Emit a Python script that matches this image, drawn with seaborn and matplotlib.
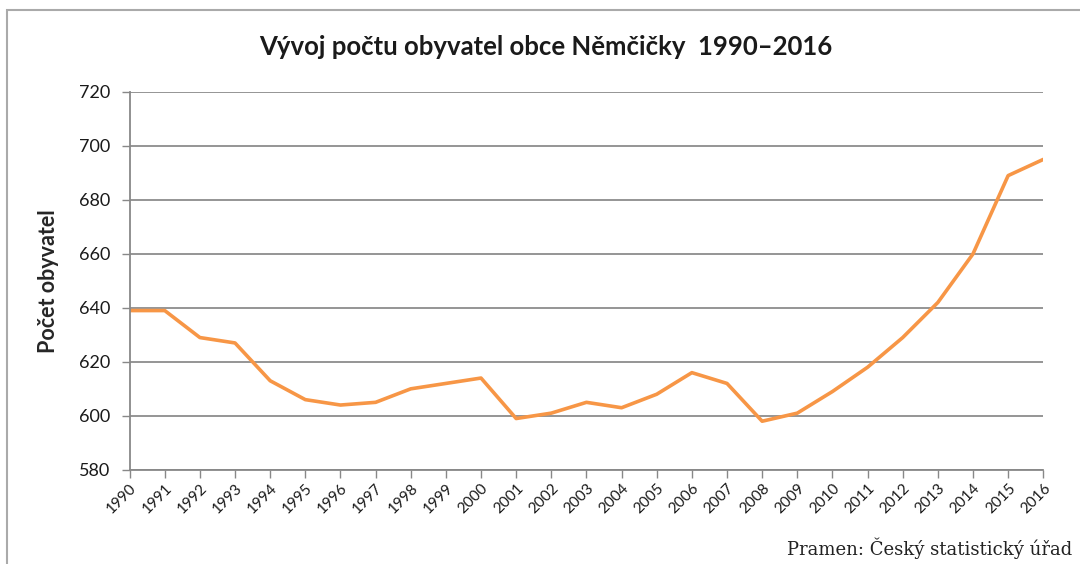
import matplotlib
matplotlib.use("Agg")
import matplotlib.pyplot as plt
import seaborn as sns
import pandas as pd
from matplotlib.patches import Rectangle

years = list(range(1990, 2017))
population = [639, 639, 629, 627, 613, 606, 604, 605, 610, 612, 614,
              599, 601, 605, 603, 608, 616, 612, 598, 601, 609, 618,
              629, 642, 660, 689, 695]
y_ticks = [580, 600, 620, 640, 660, 680, 700, 720]

df = pd.DataFrame({"rok": years, "obyvatel": population})

sns.set_style("white")
plt.rcParams["font.family"] = ["Lato", "DejaVu Sans"]

fig = plt.figure(figsize=(10.8, 5.64), dpi=100)
ax = fig.add_axes([0.120, 0.167, 0.846, 0.670])

sns.lineplot(data=df, x="rok", y="obyvatel", ax=ax, color="#f79646", linewidth=2.6)

ax.set_xlim(1990, 2016)
ax.set_ylim(580, 720)
ax.set_yticks(y_ticks)
ax.set_xticks(years)
ax.set_xticklabels([str(y) for y in years], rotation=45, ha="right",
                   rotation_mode="anchor", fontsize=11)
ax.tick_params(axis="y", labelsize=13, length=6, width=1, color="#888888",
               direction="out", left=True, pad=8)
ax.tick_params(axis="x", length=6, width=1, color="#888888",
               direction="out", bottom=True, pad=2)
for lbl in ax.get_yticklabels() + ax.get_xticklabels():
    lbl.set_color("#1a1a1a")

ax.grid(axis="y", color="#8c8c8c", linewidth=1.3)
ax.set_axisbelow(True)
for s in ["top", "right"]:
    ax.spines[s].set_visible(False)
for s in ["left", "bottom"]:
    ax.spines[s].set_color("#888888")
    ax.spines[s].set_linewidth(1.3)

ax.set_xlabel("")
ax.set_ylabel("Počet obyvatel", fontsize=15.5, fontweight="bold", labelpad=14)

fig.text(0.505, 0.917, "Vývoj počtu obyvatel obce Němčičky  1990–2016",
         ha="center", va="center", fontsize=18.5, fontweight="bold", color="#1a1a1a")
fig.text(0.993, 0.028, "Pramen: Český statistický úřad", ha="right", va="center",
         fontsize=13, family="DejaVu Serif", color="#222222")

fig.patches.append(Rectangle((7 / 1080, -0.05), 1.1, 1 - 10 / 564 + 0.05,
                             transform=fig.transFigure, fill=False,
                             edgecolor="#aaaaaa", linewidth=1.5))

fig.savefig("out.png", dpi=100)
